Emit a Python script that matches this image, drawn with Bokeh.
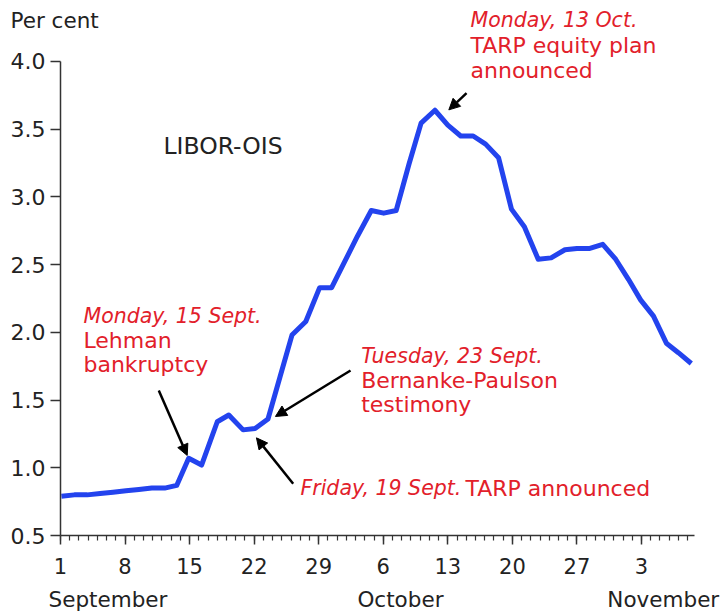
from bokeh.plotting import figure
from bokeh.models import Range1d, FixedTicker, Label, Arrow, NormalHead, LinearAxis
from bokeh.embed import file_html
from bokeh.resources import INLINE

# Day number on a calendar axis (1 Sept = 1, 1 Oct = 31, 1 Nov = 62)
day = [1.1, 2.5, 3.9, 5.3, 6.7, 8.1, 9.5, 10.9, 12.3, 13.6,
       14.9, 16.3, 18.0, 19.25, 20.8, 22.1, 23.5, 24.8, 26.1, 27.6,
       29.1, 30.4, 31.8, 33.2, 34.7, 36.05, 37.4, 38.8, 40.1, 41.6,
       43.0, 44.4, 45.75, 47.1, 48.5, 49.9, 51.3, 52.8, 54.2, 55.7,
       57.0, 58.4, 59.8, 61.2, 62.6, 63.9, 65.3, 66.7, 68.0, 69.4]
spread = [0.79, 0.80, 0.80, 0.81, 0.82, 0.83, 0.84, 0.85, 0.85, 0.87,
          1.07, 1.02, 1.34, 1.39, 1.28, 1.29, 1.36, 1.67, 1.98, 2.08,
          2.33, 2.33, 2.52, 2.71, 2.90, 2.88, 2.90, 3.245, 3.545, 3.64,
          3.53, 3.45, 3.45, 3.39, 3.29, 2.91, 2.78, 2.54, 2.55, 2.61,
          2.62, 2.62, 2.65, 2.54, 2.39, 2.24, 2.12, 1.92, 1.85, 1.77]

tick_days = [1, 8, 15, 22, 29, 36, 43, 50, 57, 64]
tick_labels = ["1", "8", "15", "22", "29", "6", "13", "20", "27", "3"]
minor_days = list(range(1, 70))
y_ticks = [0.5, 1.0, 1.5, 2.0, 2.5, 3.0, 3.5, 4.0]
month_names = ["September", "October", "November"]
month_start = [-0.3, 33.2, 60.3]

FONT = "DejaVu Sans"
RED = "#e2202a"
INK = "#222222"
AX = "#333333"
DY = 0.055  # baseline correction for labels

# the frame covers the whole canvas; axes are pinned inside it
X0, X1 = -5.506, 72.785
Y0, Y1 = -0.0833, 4.4504

p = figure(width=722, height=614, output_backend="svg", toolbar_location=None,
           x_range=Range1d(X0, X1), y_range=Range1d(Y0, Y1),
           x_axis_location=None, y_axis_location=None, min_border=0)
p.outline_line_color = None
p.background_fill_color = "white"
p.border_fill_color = "white"
p.grid.visible = False

p.line(day, spread, line_color="#2343ee", line_width=5, line_join="round")

xa = LinearAxis(fixed_location=0.5, bounds=(1, 69.75))
xa.ticker = FixedTicker(ticks=tick_days, minor_ticks=minor_days)
xa.major_label_overrides = {d: l for d, l in zip(tick_days, tick_labels)}
xa.major_tick_out = 9
xa.major_tick_in = 0
xa.minor_tick_out = 5
xa.minor_tick_in = 0
xa.axis_line_color = AX
xa.axis_line_width = 1.5
xa.major_tick_line_color = AX
xa.major_tick_line_width = 1.5
xa.minor_tick_line_color = AX
xa.minor_tick_line_width = 1.2
xa.major_label_text_font = FONT
xa.major_label_text_font_size = "21px"
xa.major_label_text_color = INK
xa.major_label_standoff = 13
p.add_layout(xa, "below")

ya = LinearAxis(fixed_location=1, bounds=(0.5, 4.0))
ya.ticker = FixedTicker(ticks=y_ticks, minor_ticks=[])
ya.major_label_overrides = {v: f"{v:.1f}" for v in y_ticks}
ya.major_tick_out = 10
ya.major_tick_in = 0
ya.minor_tick_line_color = None
ya.axis_line_color = AX
ya.axis_line_width = 1.5
ya.major_tick_line_color = AX
ya.major_tick_line_width = 1.5
ya.major_label_text_font = FONT
ya.major_label_text_font_size = "22px"
ya.major_label_text_color = INK
ya.major_label_standoff = 5
p.add_layout(ya, "left")


def lab(x, y, text, color=RED, size="22px", style="normal", align="left"):
    p.add_layout(Label(x=x, y=y + DY, text=text, text_color=color, text_font=FONT,
                       text_font_size=size, text_font_style=style,
                       text_align=align, text_baseline="alphabetic"))


def ital(x, y, text):
    lab(x, y, text, size="20.5px", style="italic")


for name, pos in zip(month_names, month_start):
    lab(pos, -0.024, name, color=INK, size="21.5px")

lab(-4.42, 4.251, "Per cent", color=INK, size="21.5px")
lab(12.17, 3.321, "LIBOR-OIS", color=INK, size="23.5px")

ital(3.49, 2.065, "Monday, 15 Sept.")
lab(3.49, 1.884, "Lehman")
lab(3.49, 1.704, "bankruptcy")

ital(33.6, 1.770, "Tuesday, 23 Sept.")
lab(33.6, 1.593, "Bernanke-Paulson")
lab(33.6, 1.416, "testimony")

ital(45.46, 4.253, "Monday, 13 Oct.")
lab(45.46, 4.066, "TARP equity plan")
lab(45.46, 3.882, "announced")

ital(27.02, 0.795, "Friday, 19 Sept.")
lab(44.92, 0.795, "TARP announced")

arrows = [
    (11.66, 1.571, 14.74, 1.091),
    (32.45, 1.718, 24.31, 1.379),
    (26.23, 0.882, 22.25, 1.221),
    (45.03, 3.766, 43.11, 3.643),
]
for xs, ys, xe, ye in arrows:
    p.add_layout(Arrow(end=NormalHead(size=11, fill_color="black", line_color="black",
                                      line_width=1),
                       x_start=xs, y_start=ys, x_end=xe, y_end=ye,
                       line_color="black", line_width=2.5))

open("out.html", "w").write(file_html(p, INLINE))
